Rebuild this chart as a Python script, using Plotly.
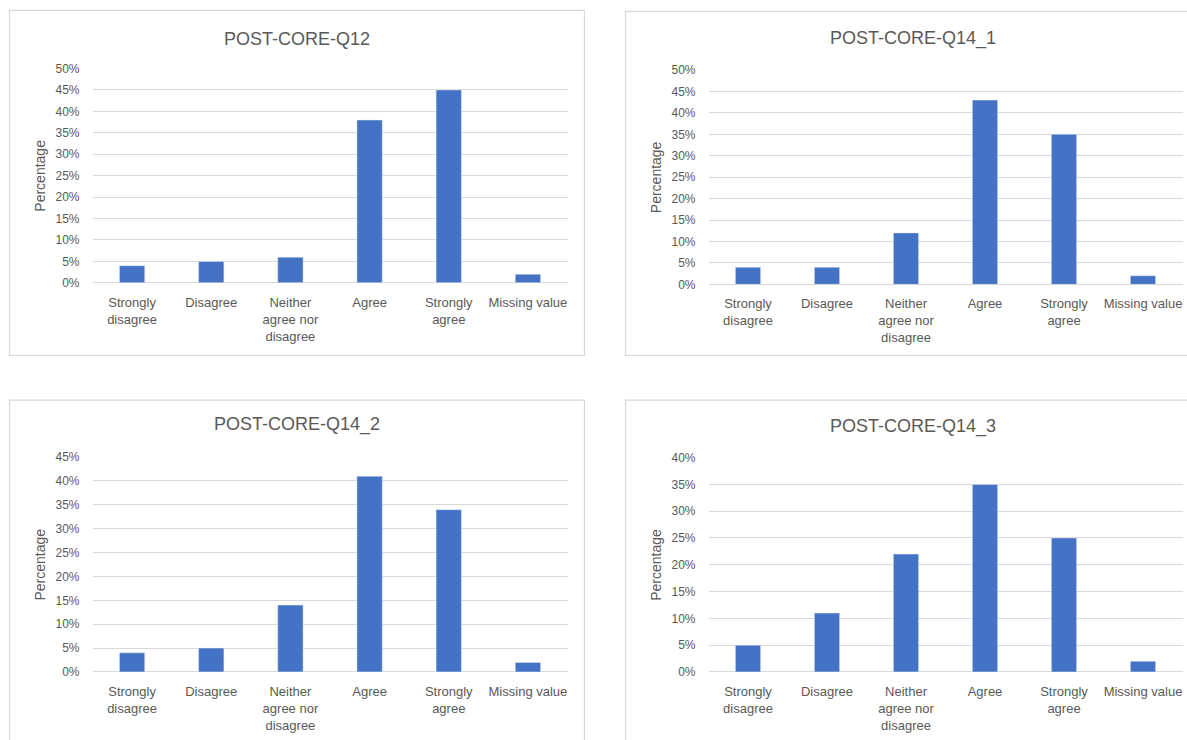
import plotly.graph_objects as go

W, H = 1187, 740

categories = ["Strongly<br>disagree", "Disagree", "Neither<br>agree nor<br>disagree",
              "Agree", "Strongly<br>agree", "Missing value"]
titles = ["POST-CORE-Q12", "POST-CORE-Q14_1", "POST-CORE-Q14_2", "POST-CORE-Q14_3"]
q12 = [0.04, 0.05, 0.06, 0.38, 0.45, 0.02]
q14_1 = [0.04, 0.04, 0.12, 0.43, 0.35, 0.02]
q14_2 = [0.04, 0.05, 0.14, 0.41, 0.34, 0.02]
q14_3 = [0.05, 0.11, 0.22, 0.35, 0.25, 0.02]
series = [q12, q14_1, q14_2, q14_3]
ymax = [0.50, 0.50, 0.45, 0.40]


def px(x):
    return x / W


def py(y):
    # compensate for the vertical offset/scale observed in the capture
    y = (y - 8.06) / 0.9796
    return 1 - y / H


# plot-area geometry in pixels: (x0, x1, y_zero, y_top)
areas = [
    (92.5, 567.5, 283.5, 69.5),
    (708.5, 1182.5, 285, 71),
    (92.5, 567.5, 672, 457.5),
    (708.5, 1182.5, 672, 458),
]
title_pos = [(296.5, 40), (912.5, 40), (296.5, 425), (912.5, 427)]
ytitle_x = [40, 656, 40, 656]

TXT = "#595959"
GRID = "#d9d9d9"
FONT = "Liberation Sans, Arial, sans-serif"

fig = go.Figure()
annotations = []
for i in range(4):
    ax = "" if i == 0 else str(i + 1)
    fig.add_trace(go.Bar(
        x=categories, y=series[i], marker_color="#4472C4",
        xaxis="x" + ax, yaxis="y" + ax, showlegend=False,
        hoverinfo="x+y"))
    x0, x1, yz, yt = areas[i]
    fig.update_layout(**{
        "xaxis" + ax: dict(
            domain=[px(x0), px(x1)], anchor="y" + ax,
            tickfont=dict(size=13, color=TXT, family=FONT),
            showgrid=False, showline=False, ticks="", ticklabelstandoff=10,
            fixedrange=True),
        "yaxis" + ax: dict(
            domain=[py(yz), py(yt)], anchor="x" + ax,
            range=[0, ymax[i]], dtick=0.05, tickformat=".0%",
            tickfont=dict(size=12, color=TXT, family=FONT),
            showgrid=True, gridcolor=GRID, gridwidth=1,
            zeroline=True, zerolinecolor=GRID, zerolinewidth=1,
            showline=False, ticks="", ticklabelstandoff=12,
            fixedrange=True),
    })
    tx, ty = title_pos[i]
    annotations.append(dict(
        text=titles[i], x=px(tx), y=py(ty), xref="paper", yref="paper",
        showarrow=False, xanchor="center", yanchor="middle",
        font=dict(size=18, color=TXT, family=FONT)))
    annotations.append(dict(
        text="Percentage", x=px(ytitle_x[i]), y=py((yz + yt) / 2),
        xref="paper", yref="paper", showarrow=False, textangle=-90,
        xanchor="center", yanchor="middle",
        font=dict(size=14, color=TXT, family=FONT)))

shapes = []
line = dict(color=GRID, width=1.2)
shapes.append(dict(type="rect", xref="paper", yref="paper",
                   x0=px(9.5), x1=px(584.5), y0=py(356), y1=py(11.5), line=line))
shapes.append(dict(type="rect", xref="paper", yref="paper",
                   x0=px(625.5), x1=px(1220), y0=py(356), y1=py(12.5), line=line))
shapes.append(dict(type="rect", xref="paper", yref="paper",
                   x0=px(9.5), x1=px(584.5), y0=py(780), y1=py(400.5), line=line))
shapes.append(dict(type="rect", xref="paper", yref="paper",
                   x0=px(625.5), x1=px(1220), y0=py(780), y1=py(400.5), line=line))

fig.update_layout(
    width=W, height=H, margin=dict(l=0, r=0, t=0, b=0),
    paper_bgcolor="white", plot_bgcolor="white",
    bargap=0.68, annotations=annotations, shapes=shapes,
    font=dict(family=FONT, color=TXT),
)
fig.write_html("out.html", config={"displayModeBar": False})
